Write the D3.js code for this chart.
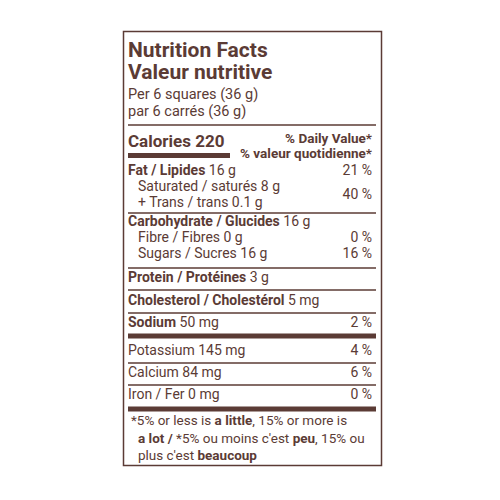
<!DOCTYPE html><html><head><meta charset="utf-8">
<script src="https://cdn.jsdelivr.net/npm/d3@7"></script>
<style>body{margin:0;background:#fff}text{font-family:"Roboto","Liberation Sans",sans-serif}</style></head><body>
<svg id="c" width="500" height="500"></svg>
<script>
const titles = ["Nutrition Facts", "Valeur nutritive"];
const serving = ["Per 6 squares (36 g)", "par 6 carrés (36 g)"];
const calories = 220;
const dvHeader = ["% Daily Value*", "% valeur quotidienne*"];
// [boldLabel, normalLabel, indent, dv, lineAfter]
const nutrients = [
  ["Fat / Lipides", " 16 g", 0, "21 %", null],
  ["", "Saturated / saturés 8 g", 1, "", null],
  ["", "+ Trans / trans 0.1 g", 1, "", "thin"],
  ["Carbohydrate / Glucides", " 16 g", 0, "", null],
  ["", "Fibre / Fibres 0 g", 1, "0 %", null],
  ["", "Sugars / Sucres 16 g", 1, "16 %", "thin"],
  ["Protein / Protéines", " 3 g", 0, "", "thin"],
  ["Cholesterol / Cholestérol", " 5 mg", 0, "", "thin"],
  ["Sodium", " 50 mg", 0, "2 %", "thick"],
  ["", "Potassium 145 mg", 0, "4 %", "thin"],
  ["", "Calcium 84 mg", 0, "6 %", "thin"],
  ["", "Iron / Fer 0 mg", 0, "0 %", "thick"]
];
const rowBaselines = [175,191,207,226,242,258,282,305,327,355,377,399];
const lineYs = {2:213,5:268,6:290,7:313,8:336,9:363,10:385,11:409};
const C = "#5b3b35";
const svg = d3.select("#c");
const L = 128, R = 372;
const fs = 14;
svg.append("rect").attr("x",123.5).attr("y",31.5).attr("width",258).attr("height",434).attr("fill","none").attr("stroke",C).attr("stroke-width",1.5);
titles.forEach((t,i)=>svg.append("text").attr("x",L).attr("y",57+i*22).attr("font-size",21).attr("font-weight","bold").attr("fill",C).text(t));
serving.forEach((t,i)=>svg.append("text").attr("x",L).attr("y",99+i*17).attr("font-size",14.5).attr("fill",C).text(t));
svg.append("line").attr("x1",L).attr("x2",R+4).attr("y1",125).attr("y2",125).attr("stroke",C).attr("stroke-width",1.5);
svg.append("text").attr("x",L).attr("y",147).attr("font-size",17).attr("font-weight","bold").attr("fill",C).text("Calories "+calories);
svg.append("rect").attr("x",L).attr("y",153).attr("width",102).attr("height",5).attr("fill",C);
dvHeader.forEach((t,i)=>svg.append("text").attr("x",R).attr("y",143+i*15).attr("text-anchor","end").attr("font-size",13.5).attr("font-weight","bold").attr("fill",C).text(t));
nutrients.forEach((n,i)=>{
  const y=rowBaselines[i];
  const t=svg.append("text").attr("x",L+(n[2]?10:0)).attr("y",y).attr("font-size",fs).attr("fill",C);
  if(n[0]) t.append("tspan").attr("font-weight","bold").text(n[0]);
  t.append("tspan").text(n[1]);
  if(n[3]) svg.append("text").attr("x",R).attr("y",y).attr("text-anchor","end").attr("font-size",fs).attr("fill",C).text(n[3]);
  if(n[4]){
    const ly=lineYs[i];
    if(n[4]==="thick") svg.append("rect").attr("x",L).attr("y",ly-2.5).attr("width",R+4-L).attr("height",5).attr("fill",C);
    else svg.append("line").attr("x1",L).attr("x2",R+4).attr("y1",ly).attr("y2",ly).attr("stroke",C).attr("stroke-width",1.5);
  }
});
svg.append("text").attr("x",R).attr("y",199).attr("text-anchor","end").attr("font-size",fs).attr("fill",C).text("40 %");
const foot = [
  [["*5% or less is ",0],["a little",1],[", 15% or more is",0]],
  [["a lot / ",1],["*5% ou moins c'est ",0],["peu",1],[", 15% ou",0]],
  [["plus c'est ",0],["beaucoup",1]]
];
foot.forEach((ln,i)=>{
  const t=svg.append("text").attr("x",i?138:131).attr("y",425+i*17.5).attr("font-size",13.5).attr("fill",C);
  ln.forEach(s=>t.append("tspan").attr("font-weight",s[1]?"bold":"normal").text(s[0]));
});
</script></body></html>
